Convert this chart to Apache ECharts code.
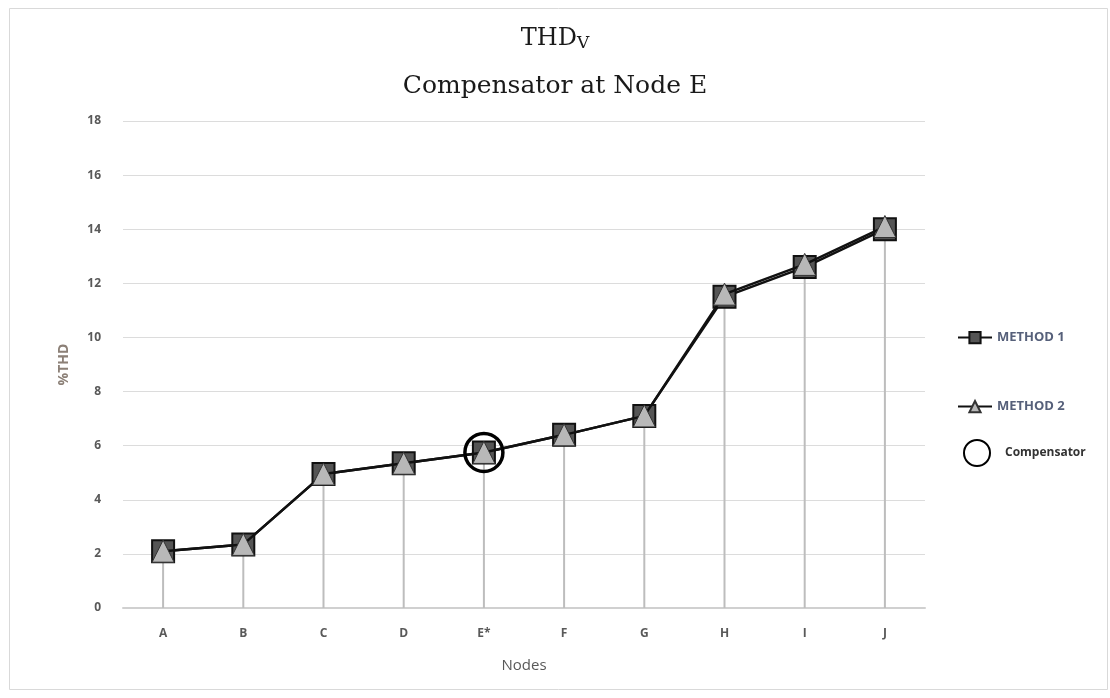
<!DOCTYPE html>
<html><head><meta charset="utf-8">
<script src="https://cdn.jsdelivr.net/npm/echarts@6/dist/echarts.min.js"></script>
<style>html,body{margin:0;padding:0;background:#fff}#c{width:1110px;height:698px}</style>
</head><body><div id="c"></div>
<script>
const nodes = ['A','B','C','D','E*','F','G','H','I','J'];
const method1 = [2.1, 2.35, 4.95, 5.35, 5.75, 6.4, 7.1, 11.5, 12.6, 14.0];
const method2 = [2.1, 2.35, 4.95, 5.35, 5.75, 6.4, 7.1, 11.6, 12.7, 14.1];
const compensator = [null, null, null, null, 5.75, null, null, null, null, null];
const yTicks = [0, 2, 4, 6, 8, 10, 12, 14, 16, 18];
const dropLines = method1.map((v, i) => Math.max(v, method2[i]));

const chart = echarts.init(document.getElementById('c'));
const lblFont = {color:'#595959', fontWeight:'bold', fontSize:12, fontFamily:'Open Sans'};
chart.setOption({
  animation:false,
  backgroundColor:'#fff',
  graphic:[{type:'rect', shape:{x:9.5,y:8.5,width:1098,height:681}, style:{fill:'none', stroke:'#d9d9d9', lineWidth:1}}],
  title:[
    {text:'{a|THD}{b|V}', left:'center', top:20, textStyle:{rich:{
      a:{fontFamily:'DejaVu Serif', fontSize:24, color:'#1a1a1a', fontWeight:'normal'},
      b:{fontFamily:'DejaVu Serif', fontSize:17, color:'#1a1a1a', fontWeight:'normal', verticalAlign:'bottom', padding:[10,0,0,0]}}}},
    {text:'Compensator at Node E', left:'center', top:69, textStyle:{fontFamily:'DejaVu Serif', fontSize:25, fontWeight:'normal', color:'#1a1a1a'}}
  ],
  legend:[
    {data:['METHOD 1'], left:952, top:326, itemWidth:34, itemHeight:14, textStyle:{color:'#56607a', fontWeight:'bold', fontSize:13, fontFamily:'Open Sans'}},
    {data:['METHOD 2'], left:952, top:395, itemWidth:34, itemHeight:14, textStyle:{color:'#56607a', fontWeight:'bold', fontSize:13, fontFamily:'Open Sans'}},
    {data:['Compensator'], left:958, top:434, itemWidth:26, itemHeight:26, itemGap:0, textStyle:{color:'#333', fontSize:12, fontFamily:'Open Sans', fontWeight:'bold', padding:[0,0,0,10]}}
  ],
  grid:{left:123, right:185, top:121, bottom:90, containLabel:false},
  xAxis:{type:'category', data:nodes, boundaryGap:true,
    name:'Nodes', nameLocation:'middle', nameGap:50,
    nameTextStyle:{color:'#595959', fontSize:15, fontFamily:'Open Sans'},
    axisLine:{lineStyle:{color:'#d0d0d0', width:2}}, axisTick:{show:false},
    axisLabel:Object.assign({margin:20}, lblFont)},
  yAxis:{type:'value', min:0, max:18, interval:2,
    name:'%THD', nameLocation:'middle', nameGap:52, nameRotate:90,
    nameTextStyle:{color:'#8c8077', fontSize:14, fontWeight:'bold', fontFamily:'Open Sans'},
    axisLine:{show:false}, axisTick:{show:false},
    axisLabel:Object.assign({margin:22, formatter: v => yTicks.includes(v) ? String(v) : ''}, lblFont),
    splitLine:{lineStyle:{color:'#dcdcdc', width:1}}},
  series:[
    {name:'drop', type:'bar', data:dropLines, barWidth:2, itemStyle:{color:'#bdbdbd'}, z:1, silent:true},
    {name:'METHOD 1', type:'line', data:method1, symbol:'rect', symbolSize:22,
      lineStyle:{color:'#111', width:2.5}, itemStyle:{color:'#555', borderColor:'#111', borderWidth:2}, z:3},
    {name:'METHOD 2', type:'line', data:method2, symbol:'triangle', symbolSize:22,
      lineStyle:{color:'#111', width:2.5}, itemStyle:{color:'#b8b8b8', borderColor:'#333', borderWidth:1}, z:4},
    {name:'Compensator', type:'scatter', data:compensator, symbol:'circle', symbolSize:38,
      itemStyle:{color:'rgba(0,0,0,0)', borderColor:'#000', borderWidth:3.5, opacity:1}, z:5}
  ]
});
</script></body></html>
